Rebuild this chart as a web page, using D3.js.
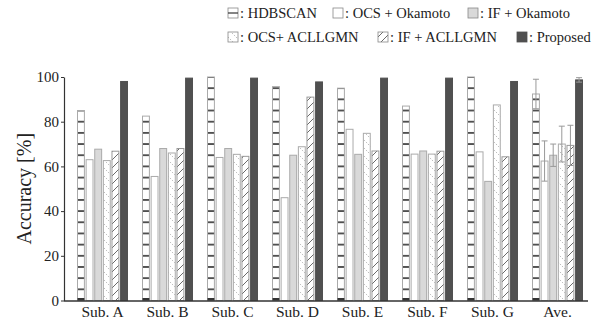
<!DOCTYPE html>
<html>
<head>
<meta charset="utf-8">
<script src="https://cdn.jsdelivr.net/npm/d3@7"></script>
<style>
  body { margin: 0; background: #fff; }
  svg text { font-family: "Liberation Serif", "Tinos", "Times New Roman", Times, "DejaVu Serif", serif; }
</style>
</head>
<body>
<div id="chart"></div>
<script>
// Categories and series
const groups = ["Sub. A", "Sub. B", "Sub. C", "Sub. D", "Sub. E", "Sub. F", "Sub. G", "Ave."];
const methods = ["HDBSCAN", "OCS + Okamoto", "IF + Okamoto", "OCS+ ACLLGMN", "IF + ACLLGMN", "Proposed"];
const hdbscan    = [85, 82.5, 100, 95.7, 95, 87, 100, 92.4];
const ocsOkamoto = [63, 55.5, 64, 46, 76.6, 65.5, 66.5, 62.4];
const ifOkamoto  = [67.7, 68, 68, 65, 65.4, 66.9, 53.3, 65];
const ocsAcllgmn = [62.6, 66, 65.4, 68.8, 74.8, 65.5, 87.5, 70];
const ifAcllgmn  = [66.8, 68, 64.5, 91, 66.9, 66.8, 64.3, 69.4];
const proposed   = [98, 99.5, 99.5, 97.8, 99.5, 99.5, 98, 98.7];
// standard deviation shown on the "Ave." group only
const aveError   = [6.6, 9, 5, 8, 9, 1];
const yTicks = [0, 20, 40, 60, 80, 100];

const seriesValues = [hdbscan, ocsOkamoto, ifOkamoto, ocsAcllgmn, ifAcllgmn, proposed];

const width = 603, height = 320;
const svg = d3.select('#chart').append('svg')
    .attr('width', width)
    .attr('height', height);

const y = d3.scaleLinear().domain([0, 100]).range([300.5, 77]);
const x0 = d3.scaleBand().domain(groups).range([70, 590]).padding(0);
const x1 = d3.scaleBand().domain(methods).range([7.5, 57.5]).paddingInner(0.2);

// Fill patterns
const defs = svg.append('defs');
const step5 = y(0) - y(5);

const ladder = defs.append('pattern')
    .attr('id', 'ladder')
    .attr('patternUnits', 'userSpaceOnUse')
    .attr('width', 20).attr('height', step5)
    .attr('patternTransform', `translate(0, ${y(0)})`);
ladder.append('rect').attr('width', 20).attr('height', step5).attr('fill', '#fff');
ladder.append('rect').attr('y', -0.8).attr('width', 20).attr('height', 1.6).attr('fill', '#333');
ladder.append('rect').attr('y', step5 - 0.8).attr('width', 20).attr('height', 1.6).attr('fill', '#333');

const dots = defs.append('pattern')
    .attr('id', 'dots')
    .attr('patternUnits', 'userSpaceOnUse')
    .attr('width', 8).attr('height', 8);
dots.append('rect').attr('width', 8).attr('height', 8).attr('fill', '#fff');
dots.append('line').attr('x1', 0).attr('y1', 0).attr('x2', 8).attr('y2', 8)
    .attr('stroke', '#888').attr('stroke-width', 0.8).attr('stroke-dasharray', '1,1.8');

const hatch = defs.append('pattern')
    .attr('id', 'hatch')
    .attr('patternUnits', 'userSpaceOnUse')
    .attr('width', 8).attr('height', 8);
hatch.append('rect').attr('width', 8).attr('height', 8).attr('fill', '#fff');
hatch.append('line').attr('x1', -1).attr('y1', 9).attr('x2', 9).attr('y2', -1)
    .attr('stroke', '#444').attr('stroke-width', 0.8);

const fills = {
    "HDBSCAN": "url(#ladder)",
    "OCS + Okamoto": "#fff",
    "IF + Okamoto": "#d9d9d9",
    "OCS+ ACLLGMN": "url(#dots)",
    "IF + ACLLGMN": "url(#hatch)",
    "Proposed": "#505050"
};
const strokes = {
    "HDBSCAN": "#aaa",
    "OCS + Okamoto": "#aaa",
    "IF + Okamoto": "#aaa",
    "OCS+ ACLLGMN": "#aaa",
    "IF + ACLLGMN": "#999",
    "Proposed": "#505050"
};

// Bars
const barData = [];
groups.forEach((g, gi) => {
    methods.forEach((m, mi) => {
        barData.push({ group: g, method: m, value: seriesValues[mi][gi],
            err: g === "Ave." ? aveError[mi] : null });
    });
});

const bars = svg.append('g').selectAll('g')
    .data(barData)
    .join('g');

bars.append('rect')
    .attr('x', d => x0(d.group) + x1(d.method))
    .attr('y', d => y(d.value))
    .attr('width', x1.bandwidth())
    .attr('height', d => y(0) - y(d.value))
    .attr('fill', d => fills[d.method])
    .attr('stroke', d => strokes[d.method])
    .attr('stroke-width', 1);

// dark foot block on HDBSCAN bars
bars.filter(d => d.method === "HDBSCAN").append('rect')
    .attr('x', d => x0(d.group) + x1(d.method))
    .attr('y', y(0) - 2.5)
    .attr('width', x1.bandwidth())
    .attr('height', 2.5)
    .attr('fill', '#333');

// Error bars on the average group
const errs = bars.filter(d => d.err !== null);
const cx = d => x0(d.group) + x1(d.method) + x1.bandwidth() / 2;
errs.append('line')
    .attr('x1', cx).attr('x2', cx)
    .attr('y1', d => y(d.value + d.err)).attr('y2', d => y(d.value - d.err))
    .attr('stroke', '#999').attr('stroke-width', 1);
errs.append('line')
    .attr('x1', d => cx(d) - 3).attr('x2', d => cx(d) + 3)
    .attr('y1', d => y(d.value + d.err)).attr('y2', d => y(d.value + d.err))
    .attr('stroke', '#999').attr('stroke-width', 1);
errs.append('line')
    .attr('x1', d => cx(d) - 3).attr('x2', d => cx(d) + 3)
    .attr('y1', d => y(d.value - d.err)).attr('y2', d => y(d.value - d.err))
    .attr('stroke', '#999').attr('stroke-width', 1);

// Y axis
const yAxis = svg.append('g')
    .attr('transform', 'translate(64,0)')
    .call(d3.axisLeft(y).tickValues(yTicks).tickSize(3).tickPadding(2)
        .tickSizeOuter(0).tickFormat(d3.format('d')));
yAxis.attr('font-family', null);
yAxis.select('.domain').attr('stroke', '#333').attr('stroke-width', 1.2);
yAxis.selectAll('.tick line').attr('stroke', '#333');
yAxis.selectAll('.tick text')
    .attr('font-size', 15)
    .attr('fill', '#222');

// X axis
svg.append('line')
    .attr('x1', 64).attr('x2', 588)
    .attr('y1', y(0) + 0.5).attr('y2', y(0) + 0.5)
    .attr('stroke', '#333').attr('stroke-width', 1.5);
const xAxis = svg.append('g')
    .attr('transform', `translate(0,${y(0)})`)
    .call(d3.axisBottom(x0).tickSize(0));
xAxis.attr('font-family', null);
xAxis.select('.domain').remove();
xAxis.selectAll('.tick text')
    .attr('font-size', 15.5)
    .attr('fill', '#222')
    .attr('dy', 0)
    .attr('y', 16.5);

// Axis title
svg.append('text')
    .attr('transform', `translate(31,${(y(0) + y(100)) / 2}) rotate(-90)`)
    .attr('text-anchor', 'middle')
    .attr('font-size', 20)
    .attr('fill', '#222')
    .text('Accuracy [%]');

// Legend
const legendPos = [
    { x: 228, y: 13 }, { x: 333, y: 13 }, { x: 468, y: 13 },
    { x: 228, y: 37 }, { x: 378, y: 37 }, { x: 517, y: 37 }
];
const legend = svg.append('g').selectAll('g')
    .data(methods)
    .join('g')
    .attr('transform', (d, i) => `translate(${legendPos[i].x},${legendPos[i].y})`);
legend.append('rect')
    .attr('x', 0).attr('y', -5)
    .attr('width', 10).attr('height', 10)
    .attr('fill', d => d === "HDBSCAN" ? '#fff' : fills[d])
    .attr('stroke', d => d === "Proposed" ? '#505050' : '#888')
    .attr('stroke-width', 0.8);
legend.filter(d => d === "HDBSCAN").append('line')
    .attr('x1', 0).attr('x2', 10).attr('y1', 0).attr('y2', 0)
    .attr('stroke', '#333').attr('stroke-width', 1.2);
legend.append('text')
    .attr('x', 12).attr('y', 5)
    .attr('font-size', 14.5)
    .attr('fill', '#222')
    .text(d => ': ' + d);
</script>
</body>
</html>
